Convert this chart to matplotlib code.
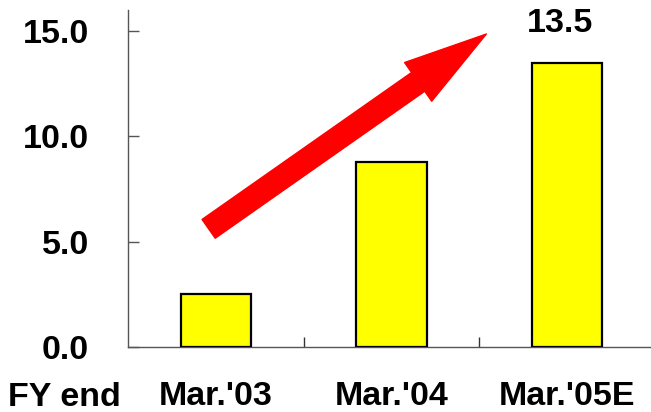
import matplotlib
matplotlib.use("Agg")
import matplotlib.pyplot as plt
from matplotlib.ticker import FixedLocator

categories = ["Mar.'03", "Mar.'04", "Mar.'05E"]
values = [2.5, 8.8, 13.5]
yticks = [0.0, 5.0, 10.0, 15.0]

plt.rcParams['font.family'] = ['Liberation Sans', 'DejaVu Sans']
plt.rcParams['font.weight'] = 'bold'

fig = plt.figure(figsize=(6.51, 4.12), dpi=100)
ax = fig.add_axes([128 / 651, 65 / 412, 527 / 651, 337 / 412])

x = range(len(categories))
ax.bar(x, values, width=0.4, color='#FFFF00', edgecolor='black', linewidth=1.6, zorder=3)

ax.set_xlim(-0.5, len(categories) - 0.5)
ax.set_ylim(0, 16)

# y axis
ax.set_yticks(yticks)
ax.set_yticklabels([f"{v:.1f}" for v in yticks], fontsize=24.5, fontweight='bold')
ax.tick_params(axis='y', direction='in', length=8, width=1, color='#555555', pad=28)

# x axis: labels at categories, tick marks between them
ax.set_xticks(list(x))
ax.set_xticklabels(categories, fontsize=24.5, fontweight='bold')
ax.tick_params(axis='x', which='major', length=0, pad=24.5)
ax.xaxis.set_minor_locator(FixedLocator([i + 0.5 for i in range(len(categories) - 1)]))
ax.tick_params(axis='x', which='minor', direction='in', length=7, width=1, color='#333333')

for side in ['top', 'right']:
    ax.spines[side].set_visible(False)
for side in ['left', 'bottom']:
    ax.spines[side].set_color('#555555')
    ax.spines[side].set_linewidth(1.0)

# value label over the last bar
ax.annotate(f"{values[-1]:.1f}", xy=(2, values[-1]), xytext=(-5, 17), textcoords='offset points',
            ha='center', va='bottom', fontsize=24.5, fontweight='bold')

# growth arrow
ax.annotate('', xy=(1.54, 14.86), xytext=(-0.041, 5.61),
            arrowprops=dict(arrowstyle='simple,head_length=60,head_width=34,tail_width=16.5',
                            mutation_scale=1, color='#FF0000', shrinkA=0, shrinkB=0),
            zorder=4)

fig.text(8 / 651, 6.5 / 412, "FY end", fontsize=24.5, fontweight='bold', ha='left', va='baseline')

fig.savefig("out.png", dpi=100)
